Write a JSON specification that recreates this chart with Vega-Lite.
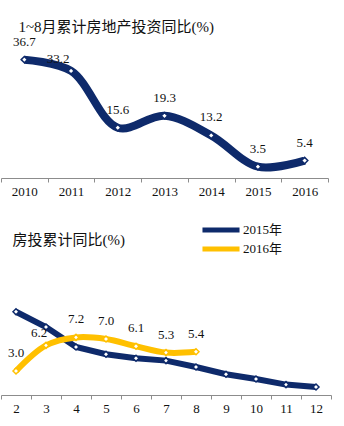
{
  "$schema": "https://vega.github.io/schema/vega-lite/v6.json",
  "padding": {"top": 19, "left": 0, "right": 4, "bottom": 2},
  "background": "white",
  "config": {
    "view": {"stroke": null},
    "font": "Liberation Serif",
    "title": {"font": "Liberation Serif, Noto Sans CJK SC", "fontSize": 15, "fontWeight": "normal", "color": "#111", "anchor": "start"},
    "axis": {"labelFont": "Liberation Serif", "labelFontSize": 13, "labelColor": "#111", "domainColor": "#8c8c8c", "tickColor": "#8c8c8c", "tickSize": 4, "labelPadding": 3, "grid": false, "title": null}
  },
  "datasets": {
    "annual": [
      {"year": "2010", "value": 36.7},
      {"year": "2011", "value": 33.2},
      {"year": "2012", "value": 15.6},
      {"year": "2013", "value": 19.3},
      {"year": "2014", "value": 13.2},
      {"year": "2015", "value": 3.5},
      {"year": "2016", "value": 5.4}
    ],
    "monthly": [
      {"month": "2", "series": "2015年", "value": 10.4},
      {"month": "3", "series": "2015年", "value": 8.5},
      {"month": "4", "series": "2015年", "value": 6.0},
      {"month": "5", "series": "2015年", "value": 5.1},
      {"month": "6", "series": "2015年", "value": 4.6},
      {"month": "7", "series": "2015年", "value": 4.3},
      {"month": "8", "series": "2015年", "value": 3.5},
      {"month": "9", "series": "2015年", "value": 2.6},
      {"month": "10", "series": "2015年", "value": 2.0},
      {"month": "11", "series": "2015年", "value": 1.3},
      {"month": "12", "series": "2015年", "value": 1.0},
      {"month": "2", "series": "2016年", "value": 3.0},
      {"month": "3", "series": "2016年", "value": 6.2},
      {"month": "4", "series": "2016年", "value": 7.2},
      {"month": "5", "series": "2016年", "value": 7.0},
      {"month": "6", "series": "2016年", "value": 6.1},
      {"month": "7", "series": "2016年", "value": 5.3},
      {"month": "8", "series": "2016年", "value": 5.4}
    ]
  },
  "spacing": 35,
  "vconcat": [
    {
      "width": 327,
      "height": 129,
      "title": {"text": "1~8月累计房地产投资同比(%)", "dx": 18, "offset": 1},
      "data": {"name": "annual"},
      "encoding": {
        "x": {"field": "year", "type": "nominal", "sort": null, "scale": {"paddingInner": 0, "paddingOuter": 0}, "axis": {"labelAngle": 0, "tickBand": "extent"}},
        "y": {"field": "value", "type": "quantitative", "scale": {"domain": [0, 40], "nice": false}, "axis": null}
      },
      "layer": [
        {"mark": {"type": "line", "interpolate": "catmull-rom", "color": "#0E2A6B", "strokeWidth": 8}},
        {"mark": {"type": "point", "shape": "diamond", "filled": true, "fill": "white", "stroke": "#0E2A6B", "strokeWidth": 1.5, "size": 40, "opacity": 1}},
        {
          "transform": [{"filter": "datum.year != '2011'"}],
          "mark": {"type": "text", "dy": -18, "fontSize": 13, "font": "Liberation Serif", "color": "#111"},
          "encoding": {"text": {"field": "value", "type": "quantitative", "format": ".1f"}}
        },
        {
          "transform": [{"filter": "datum.year == '2011'"}],
          "mark": {"type": "text", "dy": -12, "dx": -13, "fontSize": 13, "font": "Liberation Serif", "color": "#111"},
          "encoding": {"text": {"field": "value", "type": "quantitative", "format": ".1f"}}
        }
      ]
    },
    {
      "width": 330,
      "height": 128,
      "title": {"text": "房投累计同比(%)", "dx": 12, "offset": 19},
      "data": {"name": "monthly"},
      "encoding": {
        "x": {"field": "month", "type": "ordinal", "sort": ["2","3","4","5","6","7","8","9","10","11","12"], "scale": {"paddingInner": 0, "paddingOuter": 0}, "axis": {"labelAngle": 0, "tickBand": "extent"}},
        "y": {"field": "value", "type": "quantitative", "scale": {"domain": [0, 16], "nice": false}, "axis": null},
        "color": {
          "field": "series", "type": "nominal",
          "scale": {"domain": ["2015年", "2016年"], "range": ["#0E2A6B", "#FFC000"]},
          "legend": {"orient": "none", "legendX": 211, "legendY": 172, "title": null, "symbolType": "M-2.85,0H2.85", "symbolSize": 169, "symbolStrokeWidth": 5, "labelFont": "Liberation Serif, Noto Sans CJK SC", "labelFontSize": 13, "labelColor": "#111", "labelOffset": 13, "rowPadding": -5, "symbolOpacity": 1, "padding": 0}
        }
      },
      "layer": [
        {
          "transform": [{"filter": "datum.series == '2015年'"}],
          "mark": {"type": "line", "strokeWidth": 6}
        },
        {
          "transform": [{"filter": "datum.series == '2016年'"}],
          "mark": {"type": "line", "strokeWidth": 6, "interpolate": "catmull-rom"}
        },
        {
          "mark": {"type": "point", "shape": "diamond", "filled": true, "fill": "white", "strokeWidth": 1.5, "size": 36, "opacity": 1},
          "encoding": {"stroke": {"field": "series", "type": "nominal", "scale": {"domain": ["2015年", "2016年"], "range": ["#0E2A6B", "#FFC000"]}, "legend": null}}
        },
        {
          "transform": [{"filter": "datum.series == '2016年' && datum.month != '3'"}],
          "mark": {"type": "text", "dy": -18, "fontSize": 13, "font": "Liberation Serif", "color": "#111"},
          "encoding": {"text": {"field": "value", "type": "quantitative", "format": ".1f"}, "color": {"value": "#111"}}
        },
        {
          "transform": [{"filter": "datum.series == '2016年' && datum.month == '3'"}],
          "mark": {"type": "text", "dy": -12, "dx": -7, "fontSize": 13, "font": "Liberation Serif", "color": "#111"},
          "encoding": {"text": {"field": "value", "type": "quantitative", "format": ".1f"}, "color": {"value": "#111"}}
        }
      ]
    }
  ]
}
